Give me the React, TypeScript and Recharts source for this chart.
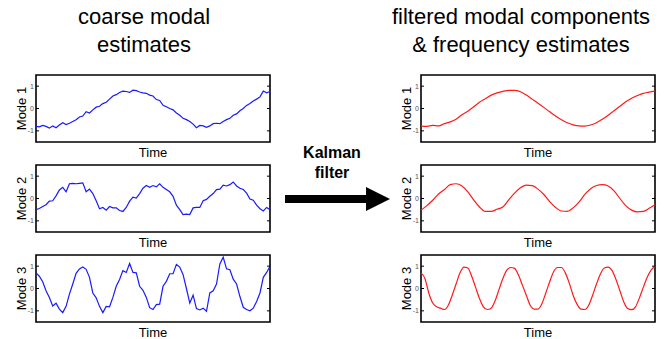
import { LineChart, Line, XAxis, YAxis, ReferenceArea } from 'recharts'

// coarse (noisy) modal estimates, one value per time step
const mode1Coarse = [
  -0.8, -0.82, -0.76, -0.8, -0.88, -0.78, -0.86, -0.74, -0.64, -0.72,
  -0.66, -0.58, -0.5, -0.38, -0.34, -0.14, -0.2, -0.06, 0.06, 0.1,
  0.22, 0.28, 0.42, 0.56, 0.62, 0.72, 0.78, 0.76, 0.72, 0.82,
  0.8, 0.74, 0.7, 0.68, 0.6, 0.56, 0.4, 0.36, 0.14, 0.08,
  0.0, -0.06, -0.2, -0.3, -0.44, -0.5, -0.58, -0.7, -0.86, -0.76,
  -0.78, -0.84, -0.78, -0.68, -0.66, -0.68, -0.58, -0.5, -0.44, -0.3,
  -0.24, -0.1, 0.0, 0.14, 0.22, 0.34, 0.42, 0.52, 0.78, 0.7, 0.76,
]
const mode2Coarse = [
  -0.5, -0.45, -0.36, -0.28, -0.12, -0.1, 0.12, 0.38, 0.5, 0.3,
  0.66, 0.68, 0.66, 0.68, 0.7, 0.3, 0.42, 0.22, -0.1, -0.46,
  -0.4, -0.52, -0.36, -0.42, -0.42, -0.54, -0.58, -0.4, -0.12, 0.06,
  0.02, 0.22, 0.46, 0.58, 0.5, 0.58, 0.52, 0.66, 0.5, 0.4,
  0.3, 0.1, -0.3, -0.5, -0.72, -0.7, -0.72, -0.42, -0.4, -0.4,
  -0.1, -0.04, 0.1, 0.22, 0.4, 0.42, 0.6, 0.56, 0.62, 0.74,
  0.56, 0.46, 0.4, 0.24, -0.02, -0.08, -0.3, -0.46, -0.56, -0.4, -0.5,
]
const mode3Coarse = [
  0.7, 0.55, 0.3, -0.1, -0.4, -0.78, -0.66, -0.92, -1.08, -0.8,
  -0.25, 0.2, 0.68, 0.88, 0.96, 0.86, 0.5, -0.2, -0.42, -0.8,
  -1.08, -0.8, -0.82, -0.4, 0.1, 0.4, 0.8, 0.72, 1.12, 0.72,
  0.7, 0.1, -0.08, -0.4, -0.86, -0.94, -0.72, -0.7, 0.1, 0.32,
  0.66, 0.66, 1.08, 0.96, 0.62, 0.0, -0.65, -0.3, -0.9, -0.96,
  -0.88, -1.02, -0.2, -0.1, 0.2, 1.1, 1.4, 0.88, 0.84, 0.42,
  0.2, -0.36, -0.84, -0.94, -1.0, -0.88, -0.58, -0.2, 0.5, 0.72, 1.0,
]

// Kalman-filtered modal components
const mode1Filtered = [
  -0.79, -0.8, -0.76, -0.78, -0.68, -0.6, -0.48, -0.28, -0.12, 0.08,
  0.28, 0.44, 0.6, 0.7, 0.77, 0.81, 0.81, 0.75, 0.6, 0.42,
  0.24, 0.05, -0.15, -0.34, -0.5, -0.64, -0.73, -0.78, -0.79, -0.74,
  -0.64, -0.48, -0.3, -0.1, 0.1, 0.3, 0.46, 0.58, 0.68, 0.73, 0.78,
]
const mode2Filtered = [
  -0.52, -0.32, -0.08, 0.2, 0.4, 0.62, 0.66, 0.56, 0.3, -0.06,
  -0.38, -0.58, -0.58, -0.48, -0.38, -0.06, 0.24, 0.48, 0.6, 0.58,
  0.42, 0.18, -0.14, -0.4, -0.56, -0.58, -0.42, -0.16, 0.18, 0.44,
  0.58, 0.62, 0.56, 0.34, 0.0, -0.32, -0.52, -0.6, -0.58, -0.44, -0.28,
]
const mode3Filtered = [
  0.7, 0.45, -0.2, -0.65, -0.82, -0.88, -0.94, -0.75, -0.3, 0.2,
  0.7, 0.96, 0.92, 0.55, 0.05, -0.45, -0.82, -0.94, -0.88, -0.55,
  -0.05, 0.45, 0.82, 0.94, 0.9, 0.6, 0.15, -0.3, -0.75, -0.92,
  -0.92, -0.68, -0.2, 0.3, 0.75, 0.94, 0.94, 0.7, 0.25, -0.3,
  -0.7, -0.92, -0.94, -0.75, -0.3, 0.2, 0.65, 0.92, 0.96, 0.8,
  0.4, -0.1, -0.6, -0.9, -0.95, -0.82, -0.42, 0.05, 0.5, 0.82, 0.98,
]

const yTicks = [-1, 0, 1]
const modeLabels = ['Mode 1', 'Mode 2', 'Mode 3']

const CHART_W = 266
const CHART_H = 89
const AXIS_W = 30
const MARGIN = { top: 2, right: 2, left: 0, bottom: 0 }
const PLOT_W = CHART_W - AXIS_W - MARGIN.left - MARGIN.right

function YTick({ x, y, payload }: any) {
  return (
    <g>
      <text x={x - 2} y={y} dy={2.5} textAnchor="end" fontSize={7} fill="#555">
        {payload.value}
      </text>
      <line x1={x} x2={x + 3} y1={y} y2={y} stroke="#000" />
      <line x1={x + PLOT_W} x2={x + PLOT_W - 3} y1={y} y2={y} stroke="#000" />
    </g>
  )
}

function ModePanel({ values, color, smooth, label, left, top }:
  { values: number[]; color: string; smooth: boolean; label: string; left: number; top: number }) {
  const data = values.map((v, i) => ({ i, v }))
  const last = values.length - 1
  return (
    <div style={{ position: 'absolute', left, top }}>
      <LineChart width={CHART_W} height={CHART_H} data={data} margin={MARGIN}>
        <XAxis dataKey="i" type="number" domain={[0, last]} tick={false} tickLine={false}
          axisLine={false} height={20}
          label={{ value: 'Time', position: 'center', fontSize: 13, fill: '#000' }} />
        <YAxis type="number" domain={[-1.5, 1.5]} ticks={yTicks} interval={0} width={AXIS_W}
          axisLine={false} tickLine={false} tickSize={0} tickMargin={0} tick={<YTick />}
          allowDataOverflow
          label={{ value: label, angle: -90, position: 'center', fontSize: 13, fill: '#000' }} />
        <Line type={smooth ? 'monotone' : 'linear'} dataKey="v" stroke={color} strokeWidth={1.2}
          dot={false} isAnimationActive={false} />
        <ReferenceArea x1={0} x2={last} y1={-1.5} y2={1.5} fill="none" fillOpacity={0}
          stroke="#000" strokeWidth={1.6} />
      </LineChart>
    </div>
  )
}

export default function App() {
  const coarse = [mode1Coarse, mode2Coarse, mode3Coarse]
  const filtered = [mode1Filtered, mode2Filtered, mode3Filtered]
  const rowTops = [73, 163, 253]
  return (
    <div style={{ position: 'absolute', left: 0, top: 0, width: 671, height: 339, background: '#fff',
      fontFamily: '"Liberation Sans", Arial, sans-serif', color: '#000', overflow: 'hidden' }}>
      <div style={{ position: 'absolute', left: 44, width: 200, top: 3, fontSize: 22, lineHeight: '28px',
        textAlign: 'center' }}>
        coarse modal<br />estimates
      </div>
      <div style={{ position: 'absolute', left: 381, width: 280, top: 3, fontSize: 22, lineHeight: '28px',
        textAlign: 'center' }}>
        filtered modal components<br />&amp; frequency estimates
      </div>
      <div style={{ position: 'absolute', left: 282, width: 100, top: 143, fontSize: 16, lineHeight: '20px',
        fontWeight: 'bold', textAlign: 'center' }}>
        Kalman<br />filter
      </div>
      <svg style={{ position: 'absolute', left: 0, top: 0 }} width={671} height={339}>
        <polygon points="285,195 366,195 366,187 390,199 366,211 366,203 285,203" fill="#000" />
      </svg>
      {coarse.map((vals, k) => (
        <ModePanel key={'c' + k} values={vals} color="#1a1aff" smooth={false} label={modeLabels[k]}
          left={6} top={rowTops[k]} />
      ))}
      {filtered.map((vals, k) => (
        <ModePanel key={'f' + k} values={vals} color="#ff1a1a" smooth label={modeLabels[k]}
          left={391} top={rowTops[k]} />
      ))}
    </div>
  )
}
